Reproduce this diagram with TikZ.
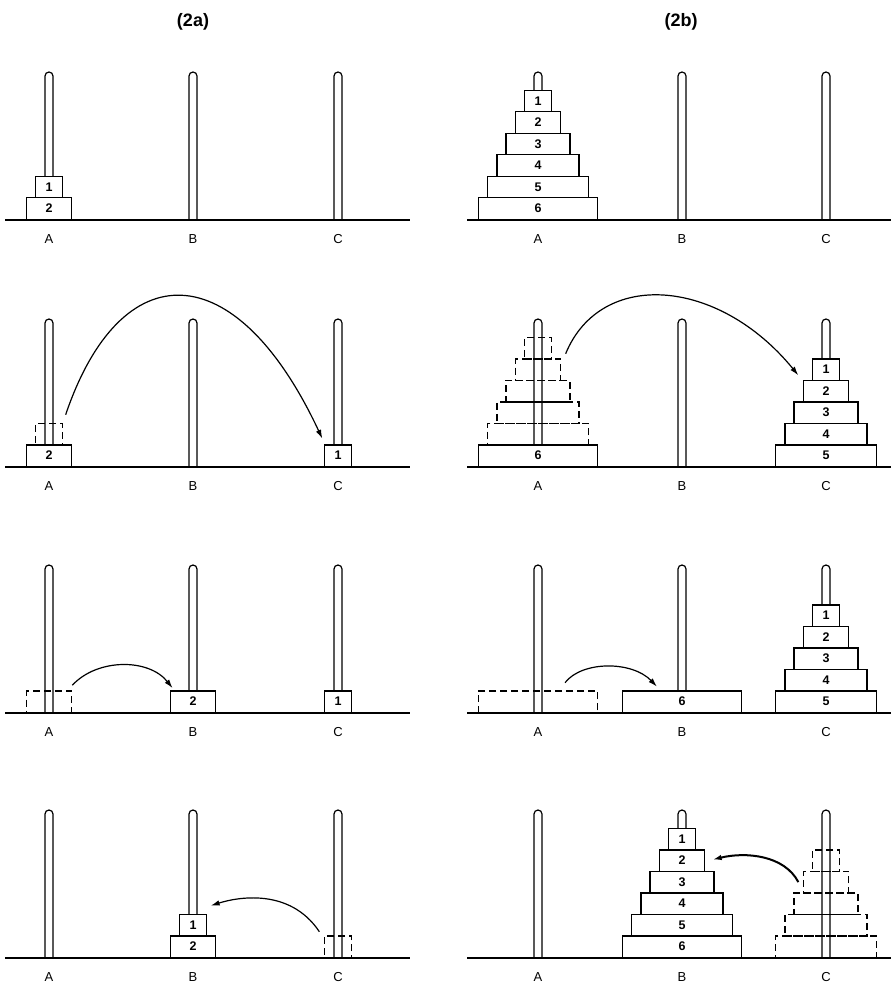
\documentclass[tikz,border=0pt]{standalone}
\usepackage{fontspec}
\setsansfont{Liberation Sans}
\usetikzlibrary{arrows.meta}
\tikzset{peg/.style = {line width=1.2pt, fill=white}}
\tikzset{ground/.style = {line width=2.8pt}}
\tikzset{disk/.style = {draw, fill=white, line width=1.3pt, anchor=south,
    inner sep=0pt, minimum height=21.5pt,
    font=\sffamily\bfseries\fontsize{12.5}{12.5}\selectfont}}
\tikzset{ghost/.style = {draw, line width=1.3pt, dash pattern=on 7pt off 4pt,
    anchor=south, inner sep=0pt, minimum height=21.5pt}}
\tikzset{dw/.style = {minimum width={27pt+18.4pt*(#1-1)}}}
\tikzset{peglabel/.style = {font=\sffamily\fontsize{13}{13}\selectfont}}
\tikzset{heading/.style = {font=\sffamily\bfseries\fontsize{18}{18}\selectfont}}
\tikzset{move/.style = {-{Latex[length=9pt,width=5.5pt]}, line width=1.2pt}}

\begin{document}
\begin{tikzpicture}[x=1pt, y=-1pt]
  \useasboundingbox (0,0) rectangle (891,984);
  \node[heading] (ta) at (193,22) {(2a)};
  \node[heading] (tb) at (681,22) {(2b)};
  % pegs and their names, row by row
  \foreach \r/\yb in {1/220,2/467,3/713,4/958} {
    \foreach \x in {49,193,338,538,682,826}
      \draw[peg] (\x-4,\yb) -- (\x-4,\yb-144)
        arc[start angle=180, end angle=360, radius=4] -- (\x+4,\yb);
    \foreach \p/\x in {A/49,B/193,C/338}
      \node[peglabel] (la\p\r) at (\x,\yb+19) {\p};
    \foreach \p/\x in {A/538,B/682,C/826}
      \node[peglabel] (lb\p\r) at (\x,\yb+19) {\p};
  }

  % row 1
  \node[disk, dw=2] (a1d2) at (49,220) {2};
  \node[disk, dw=1] (a1d1) at (49,198.5) {1};
  \foreach \k in {1,...,6}
    \node[disk, dw=\k] (b1d\k) at (538,{220-21.5*(6-\k)}) {\k};

  % row 2
  \node[disk, dw=2] (a2d2) at (49,467) {2};
  \node[ghost, dw=1] (a2g1) at (49,445.5) {};
  \node[disk, dw=1] (a2d1) at (338,467) {1};
  \node[disk, dw=6] (b2d6) at (538,467) {6};
  \foreach \k in {1,...,5} {
    \node[ghost, dw=\k] (b2g\k) at (538,{467-21.5*(6-\k)}) {};
    \node[disk, dw=\k] (b2d\k) at (826,{467-21.5*(5-\k)}) {\k};
  }

  % row 3
  \node[ghost, dw=2] (a3g2) at (49,713) {};
  \node[disk, dw=2] (a3d2) at (193,713) {2};
  \node[disk, dw=1] (a3d1) at (338,713) {1};
  \node[ghost, dw=6] (b3g6) at (538,713) {};
  \node[disk, dw=6] (b3d6) at (682,713) {6};
  \foreach \k in {1,...,5}
    \node[disk, dw=\k] (b3d\k) at (826,{713-21.5*(5-\k)}) {\k};

  % row 4
  \node[disk, dw=2] (a4d2) at (193,958) {2};
  \node[disk, dw=1] (a4d1) at (193,936.5) {1};
  \node[ghost, dw=1] (a4g1) at (338,958) {};
  \foreach \k in {1,...,6}
    \node[disk, dw=\k] (b4d\k) at (682,{958-21.5*(6-\k)}) {\k};
  \foreach \k in {1,...,5}
    \node[ghost, dw=\k] (b4g\k) at (826,{958-21.5*(5-\k)}) {};

  \foreach \yb in {220,467,713,958} {
    \draw[ground] (5,\yb) -- (410,\yb);
    \draw[ground] (467,\yb) -- (891,\yb);
  }

  % moves
  \draw[move] ([xshift=2.5pt,yshift=8pt]a2g1.north east)
    .. controls +(55,-162) and +(-87,-186) .. ([xshift=-1.5pt,yshift=5.5pt]a2d1.north west);
  \draw[move] ([xshift=4.3pt,yshift=4.5pt]b2g2.north east)
    .. controls +(35,-85) and +(-80,-98) .. ([xshift=-13.5pt,yshift=-5.75pt]b2d1.west);
  \draw[move] ([yshift=5pt]a3g2.north east)
    .. controls +(25,-27) and +(-24,-30) .. ([xshift=3pt,yshift=2pt]a3d2.north west);
  \draw[move] ([xshift=27pt,yshift=7.5pt]b3g6.north)
    .. controls +(17,-22) and +(-25,-26) .. ([xshift=-25pt,yshift=3.5pt]b3d6.north);
  \draw[move] ([xshift=-4.5pt,yshift=3.5pt]a4g1.north west)
    .. controls +(-30,-45) and +(25,-8) .. ([xshift=3.5pt,yshift=8pt]a4d1.north east);
  \draw[move, line width=2pt] ([xshift=-4.3pt]b4g2.west)
    .. controls +(-14,-27) and +(33,-8) .. ([xshift=7.3pt,yshift=1pt]b4d2.east);
\end{tikzpicture}
\end{document}
